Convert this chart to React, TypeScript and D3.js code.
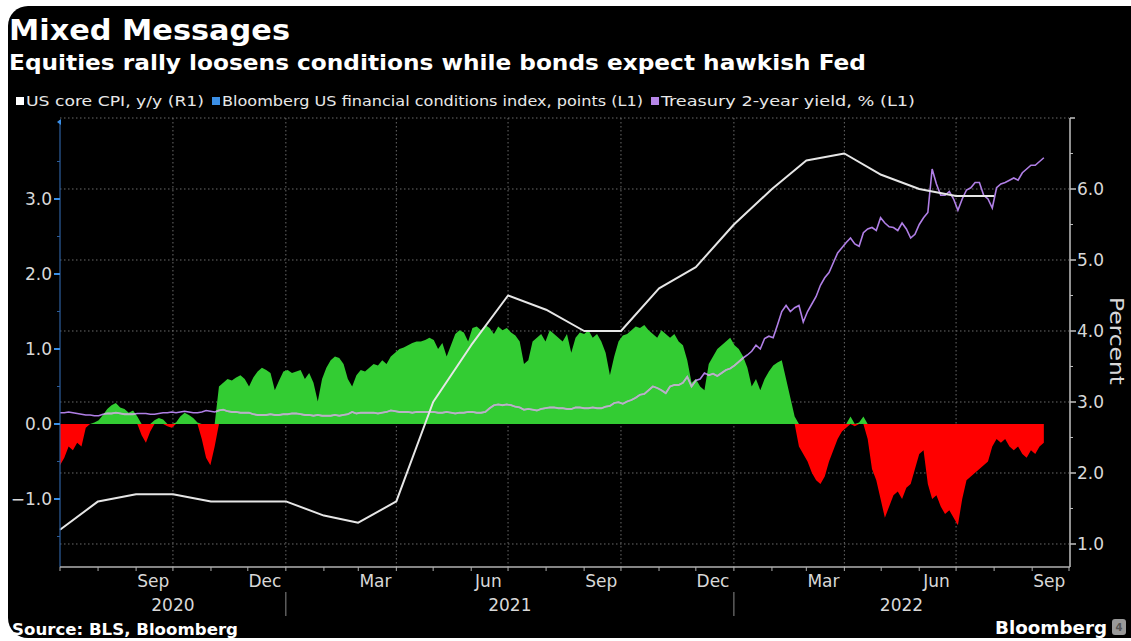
import React from "react";
import * as d3 from "d3";

// ---------- DATA ----------
// Bloomberg US financial conditions index (points, L1), sampled twice a week from 1 Jul 2020
const fciValues: number[] = [
  -0.55, -0.45, -0.3, -0.35, -0.25, -0.3, -0.05, 0.0, 0.02, 0.05,
  0.12, 0.2, 0.25, 0.28, 0.22, 0.2, 0.15, 0.18, 0.1, -0.15,
  -0.25, -0.1, 0.05, 0.08, 0.06, -0.03, -0.05, 0.02, 0.1, 0.15,
  0.12, 0.08, 0.02, -0.2, -0.45, -0.55, -0.3, 0.5, 0.55, 0.6,
  0.58, 0.62, 0.65, 0.6, 0.5, 0.62, 0.7, 0.75, 0.72, 0.68,
  0.45, 0.58, 0.7, 0.72, 0.68, 0.7, 0.72, 0.6, 0.68, 0.55,
  0.3, 0.6, 0.75, 0.85, 0.9, 0.88, 0.8, 0.6, 0.5, 0.65,
  0.72, 0.7, 0.75, 0.8, 0.78, 0.85, 0.8, 0.9, 0.95, 1.0,
  1.02, 1.05, 1.08, 1.1, 1.1, 1.12, 1.15, 1.12, 1.0, 1.08,
  0.9, 1.05, 1.2, 1.25, 1.22, 1.1, 1.28, 1.3, 1.25, 1.32,
  1.28, 1.2, 1.3, 1.25, 1.28, 1.22, 1.18, 1.1, 0.8, 0.85,
  1.1, 1.15, 1.2, 1.1, 1.25, 1.2, 1.15, 1.1, 1.2, 0.95,
  1.15, 1.22, 1.2, 1.25, 1.15, 1.2, 1.1, 0.95, 0.65, 0.9,
  1.1, 1.18, 1.2, 1.25, 1.3, 1.28, 1.32, 1.25, 1.2, 1.15,
  1.25, 1.2, 1.15, 1.2, 1.1, 1.05, 0.85, 0.55, 0.6, 0.5,
  0.45, 0.8, 0.9, 1.0, 1.05, 1.1, 1.15, 1.05, 1.0, 0.9,
  0.75, 0.5, 0.6, 0.45, 0.6, 0.7, 0.78, 0.82, 0.85, 0.6,
  0.35, 0.1, -0.3, -0.4, -0.5, -0.65, -0.75, -0.8, -0.7, -0.5,
  -0.35, -0.2, -0.1, -0.05, 0.1, -0.03, 0.02, 0.1, -0.2, -0.6,
  -0.75, -1.0, -1.25, -1.1, -0.95, -0.9, -1.0, -0.85, -0.8, -0.6,
  -0.4, -0.35, -0.8, -1.0, -0.95, -1.1, -1.2, -1.15, -1.25, -1.35,
  -1.0, -0.75, -0.7, -0.65, -0.6, -0.55, -0.5, -0.3, -0.2, -0.25,
  -0.2, -0.3, -0.35, -0.3, -0.4, -0.45, -0.35, -0.4, -0.3, -0.25,
];

// Treasury 2-year yield (%, L1), same sampling
const ust2yValues: number[] = [
  0.15, 0.15, 0.16, 0.15, 0.14, 0.13, 0.12, 0.12, 0.11, 0.11,
  0.13, 0.14, 0.14, 0.15, 0.14, 0.13, 0.13, 0.13, 0.14, 0.14,
  0.14, 0.13, 0.13, 0.14, 0.15, 0.15, 0.16, 0.15, 0.16, 0.17,
  0.16, 0.15, 0.15, 0.16, 0.18, 0.17, 0.16, 0.18, 0.19, 0.17,
  0.16, 0.16, 0.15, 0.15, 0.15, 0.13, 0.12, 0.12, 0.12, 0.13,
  0.12, 0.12, 0.13, 0.13, 0.14, 0.14, 0.13, 0.12, 0.12, 0.11,
  0.12, 0.11, 0.11, 0.11, 0.12, 0.11, 0.12, 0.13, 0.16, 0.14,
  0.15, 0.15, 0.15, 0.15, 0.14, 0.15, 0.16, 0.18, 0.17, 0.16,
  0.16, 0.16, 0.15, 0.16, 0.16, 0.16, 0.16, 0.16, 0.15, 0.15,
  0.16, 0.15, 0.14, 0.15, 0.15, 0.16, 0.16, 0.15, 0.15, 0.16,
  0.21, 0.25, 0.26, 0.25, 0.26, 0.25, 0.23, 0.22, 0.19, 0.2,
  0.19, 0.18, 0.2, 0.21, 0.22, 0.22, 0.21, 0.21, 0.2, 0.2,
  0.22, 0.22, 0.21, 0.21, 0.22, 0.21, 0.21, 0.23, 0.24, 0.28,
  0.29, 0.27, 0.3, 0.32, 0.35, 0.39, 0.4, 0.45, 0.5, 0.48,
  0.45, 0.41, 0.5, 0.52, 0.52, 0.55, 0.63, 0.5, 0.58, 0.6,
  0.68, 0.65, 0.67, 0.64, 0.68, 0.72, 0.74, 0.78, 0.83, 0.88,
  0.92, 0.97, 1.05, 1.0, 1.14, 1.17, 1.15, 1.32, 1.5, 1.58,
  1.5, 1.55, 1.58, 1.36, 1.5, 1.6, 1.7, 1.85, 1.95, 2.02,
  2.15, 2.28, 2.35, 2.42, 2.48, 2.4, 2.37, 2.55, 2.6, 2.62,
  2.58, 2.75, 2.68, 2.63, 2.62, 2.58, 2.68, 2.6, 2.48, 2.53,
  2.66, 2.75, 2.82, 3.4, 3.2, 3.05, 3.05, 3.1, 3.0, 2.85,
  3.0, 3.12, 3.15, 3.22, 3.22, 3.05, 3.0, 2.88, 3.15, 3.2,
  3.22, 3.25, 3.28, 3.25, 3.35, 3.4, 3.45, 3.45, 3.5, 3.55,
];

// US core CPI y/y (%, R1), monthly Jun 2020 .. Jul 2022
const cpiMonths: string[] = [
  "2020-06", "2020-07", "2020-08", "2020-09", "2020-10", "2020-11", "2020-12",
  "2021-01", "2021-02", "2021-03", "2021-04", "2021-05", "2021-06", "2021-07",
  "2021-08", "2021-09", "2021-10", "2021-11", "2021-12",
  "2022-01", "2022-02", "2022-03", "2022-04", "2022-05", "2022-06", "2022-07",
];
const cpiValues: number[] = [
  1.2, 1.6, 1.7, 1.7, 1.6, 1.6, 1.6,
  1.4, 1.3, 1.6, 3.0, 3.8, 4.5, 4.3,
  4.0, 4.0, 4.6, 4.9, 5.5,
  6.0, 6.4, 6.5, 6.2, 6.0, 5.9, 5.9,
];

const leftTicks: number[] = [-1, 0, 1, 2, 3];
const rightTicks: number[] = [1, 2, 3, 4, 5, 6];
const monthLabels: { label: string; date: string }[] = [
  { label: "Sep", date: "2020-09-15" },
  { label: "Dec", date: "2020-12-15" },
  { label: "Mar", date: "2021-03-15" },
  { label: "Jun", date: "2021-06-15" },
  { label: "Sep", date: "2021-09-15" },
  { label: "Dec", date: "2021-12-15" },
  { label: "Mar", date: "2022-03-15" },
  { label: "Jun", date: "2022-06-15" },
  { label: "Sep", date: "2022-09-15" },
];
const yearLabels: { label: string; from: string; to: string }[] = [
  { label: "2020", from: "2020-07-01", to: "2021-01-01" },
  { label: "2021", from: "2021-01-01", to: "2022-01-01" },
  { label: "2022", from: "2022-01-01", to: "2022-10-01" },
];

const legendItems = [
  { label: "US core CPI, y/y (R1)", color: "#ffffff" },
  { label: "Bloomberg US financial conditions index, points (L1)", color: "#3b8fe6" },
  { label: "Treasury 2-year yield, % (L1)", color: "#b686e8" },
];

const parse = (s: string) => {
  const [y, m, d] = s.split("-").map(Number);
  return new Date(y, m - 1, d || 1);
};

export default function App() {
  const start = new Date(2020, 6, 1);
  const end = new Date(2022, 9, 1);
  const left = 60, right = 1069, top = 118, bottom = 567;

  const x = d3.scaleTime().domain([start, end]).range([left, right]);
  const yL = d3.scaleLinear().domain([-1.907, 4.08]).range([bottom, top]);
  const yR = d3.scaleLinear().domain([0.676, 7]).range([bottom, top]);

  const dailyDates = fciValues.map((_, i) =>
    new Date(start.getTime() + i * 3.5 * 24 * 3600 * 1000)
  );
  const fci = fciValues.map((v, i) => ({ d: dailyDates[i], v }));
  const ust = ust2yValues.map((v, i) => ({ d: dailyDates[i], v }));
  const cpi = cpiValues.map((v, i) => {
    const [yy, mm] = cpiMonths[i].split("-").map(Number);
    return { d: new Date(yy, mm, 1), v }; // plotted at month end
  });

  const posArea = d3
    .area<{ d: Date; v: number }>()
    .x((p) => x(p.d))
    .y0(yL(0))
    .y1((p) => yL(Math.max(0, p.v)));
  const negArea = d3
    .area<{ d: Date; v: number }>()
    .x((p) => x(p.d))
    .y0(yL(0))
    .y1((p) => yL(Math.min(0, p.v)));
  const ustLine = d3
    .line<{ d: Date; v: number }>()
    .x((p) => x(p.d))
    .y((p) => yL(p.v));
  const cpiLine = d3
    .line<{ d: Date; v: number }>()
    .x((p) => x(p.d))
    .y((p) => yR(p.v));

  const monthTicks = d3.timeMonth.range(start, d3.timeDay.offset(end, 1));
  const quarterTicks = monthTicks.filter(
    (m) => m.getMonth() % 3 === 0 && m > start && m < end
  );
  const yearSeps = monthTicks.filter((m) => m.getMonth() === 0);

  const leftMinor = d3.range(-1.5, 4.01, 0.5).filter((v) => Math.abs(v % 1) > 0.1);
  const rightMinor = d3.range(1.5, 7, 1);
  const gridY = [...rightTicks, 7];

  const tickColor = "#d8d8d8";
  const font = "'DejaVu Sans', Verdana, sans-serif";
  const cond = "'DejaVu Sans Condensed', 'DejaVu Sans', sans-serif";

  const legendPos = [16, 212, 651];
  const legendW = [178, 421, 254];

  return (
    <svg
      width={1131}
      height={641}
      style={{ position: "absolute", left: 0, top: 0, background: "#fff" }}
    >
      <defs>
        <clipPath id="greenClip">
          <path d={posArea(fci) || ""} />
        </clipPath>
      </defs>
      <rect x={8} y={6} width={1150} height={632} rx={20} fill="#000" />

      {/* Title */}
      <text x={9} y={40} fill="#fff" fontFamily={font} fontWeight="bold" fontSize={28} textLength={281} lengthAdjust="spacingAndGlyphs">
        Mixed Messages
      </text>
      <text x={9} y={70} fill="#fff" fontFamily={font} fontWeight="bold" fontSize={21} textLength={857} lengthAdjust="spacingAndGlyphs">
        Equities rally loosens conditions while bonds expect hawkish Fed
      </text>

      {/* Legend */}
      {legendItems.map((it, i) => (
        <g key={it.label}>
          <rect x={legendPos[i]} y={97} width={8} height={8} fill={it.color} />
          <text
            x={legendPos[i] + 10}
            y={106}
            fill="#e8e8e8"
            fontFamily={cond}
            fontSize={14}
            textLength={legendW[i]}
            lengthAdjust="spacingAndGlyphs"
          >
            {it.label}
          </text>
        </g>
      ))}

      {/* Gridlines */}
      {gridY.map((v) => (
        <line key={"gy" + v} x1={left} x2={right} y1={yR(v)} y2={yR(v)} stroke="#6a6a6a" strokeWidth={1} strokeDasharray="1.5,2.5" />
      ))}
      {quarterTicks.map((m) => (
        <line key={"gx" + m.getTime()} x1={x(m)} x2={x(m)} y1={top} y2={bottom} stroke="#6a6a6a" strokeWidth={1} strokeDasharray="1.5,2.5" />
      ))}

      {/* FCI areas */}
      <path d={posArea(fci) || ""} fill="#33cc33" />
      <path d={negArea(fci) || ""} fill="#ff0000" />

      {/* Treasury 2y line: purple, greyish where over green */}
      <path d={ustLine(ust) || ""} fill="none" stroke="#b07fe6" strokeWidth={1.6} />
      <path d={ustLine(ust) || ""} fill="none" stroke="#b9b4c4" strokeWidth={1.8} clipPath="url(#greenClip)" />

      {/* CPI line */}
      <path d={cpiLine(cpi) || ""} fill="none" stroke="#e6e6e6" strokeWidth={2} strokeLinejoin="round" />

      {/* Left axis */}
      <line x1={left} x2={left} y1={top + 2} y2={bottom} stroke="#2d5f9e" strokeWidth={1.2} />
      <path d={`M${left - 3},${top + 4} L${left + 1},${top + 1} L${left + 1},${top + 7} Z`} fill="#3b8fe6" />
      {leftTicks.map((v) => (
        <g key={"lt" + v}>
          <line x1={left - 6} x2={left} y1={yL(v)} y2={yL(v)} stroke="#3b8fe6" strokeWidth={2} />
          <text x={left - 8} y={yL(v) + 6} textAnchor="end" fill={tickColor} fontFamily={font} fontSize={17}>
            {d3.format(".1f")(v)}
          </text>
        </g>
      ))}
      {leftMinor.map((v) => (
        <line key={"lm" + v} x1={left - 3} x2={left} y1={yL(v)} y2={yL(v)} stroke="#2d5f9e" strokeWidth={1} />
      ))}

      {/* Right axis */}
      <line x1={right + 1} x2={right + 1} y1={top} y2={bottom} stroke="#c0c0c0" strokeWidth={1.5} />
      <line x1={right + 1} x2={right + 6} y1={top} y2={top} stroke="#c0c0c0" strokeWidth={1.5} />
      {rightTicks.map((v) => (
        <g key={"rt" + v}>
          <line x1={right + 1} x2={right + 7} y1={yR(v)} y2={yR(v)} stroke="#c0c0c0" strokeWidth={1.5} />
          <text x={right + 8} y={yR(v) + 6} fill={tickColor} fontFamily={font} fontSize={17}>
            {d3.format(".1f")(v)}
          </text>
        </g>
      ))}
      {rightMinor.map((v) => (
        <line key={"rm" + v} x1={right + 1} x2={right + 4} y1={yR(v)} y2={yR(v)} stroke="#c0c0c0" strokeWidth={1} />
      ))}
      <text
        transform={`translate(1110,341) rotate(90)`}
        textAnchor="middle"
        fill={tickColor}
        fontFamily={font}
        fontSize={19}
        textLength={88}
        lengthAdjust="spacingAndGlyphs"
      >
        Percent
      </text>

      {/* Bottom axis */}
      <line x1={left} x2={right + 1} y1={bottom} y2={bottom} stroke="#b0b0b0" strokeWidth={1.5} />
      {monthTicks.map((m) => (
        <line key={"mt" + m.getTime()} x1={x(m)} x2={x(m)} y1={bottom} y2={bottom + 4} stroke="#b0b0b0" strokeWidth={1} />
      ))}
      {monthLabels.map((ml) => (
        <text key={ml.date} x={x(parse(ml.date))} y={587} textAnchor="middle" fill={tickColor} fontFamily={font} fontSize={17}>
          {ml.label}
        </text>
      ))}
      {yearLabels.map((yl) => (
        <text
          key={yl.label}
          x={(x(parse(yl.from)) + x(parse(yl.to))) / 2}
          y={611}
          textAnchor="middle"
          fill={tickColor}
          fontFamily={font}
          fontSize={17}
        >
          {yl.label}
        </text>
      ))}
      {yearSeps.map((m) => (
        <line key={"ys" + m.getTime()} x1={x(m)} x2={x(m)} y1={592} y2={616} stroke="#8a8a8a" strokeWidth={1} />
      ))}

      {/* Footer */}
      <text x={12} y={635} fill="#fff" fontFamily={font} fontWeight="bold" fontSize={15} textLength={226} lengthAdjust="spacingAndGlyphs">
        Source: BLS, Bloomberg
      </text>
      <text x={995} y={634} fill="#fff" fontFamily={font} fontWeight="bold" fontSize={18} textLength={112} lengthAdjust="spacingAndGlyphs">
        Bloomberg
      </text>
      <rect x={1112} y={619} width={14} height={16} rx={3} fill="#9a9a9a" />
      <text x={1119} y={631} textAnchor="middle" fill="#555" fontFamily={font} fontSize={10} fontWeight="bold">
        4
      </text>
    </svg>
  );
}
